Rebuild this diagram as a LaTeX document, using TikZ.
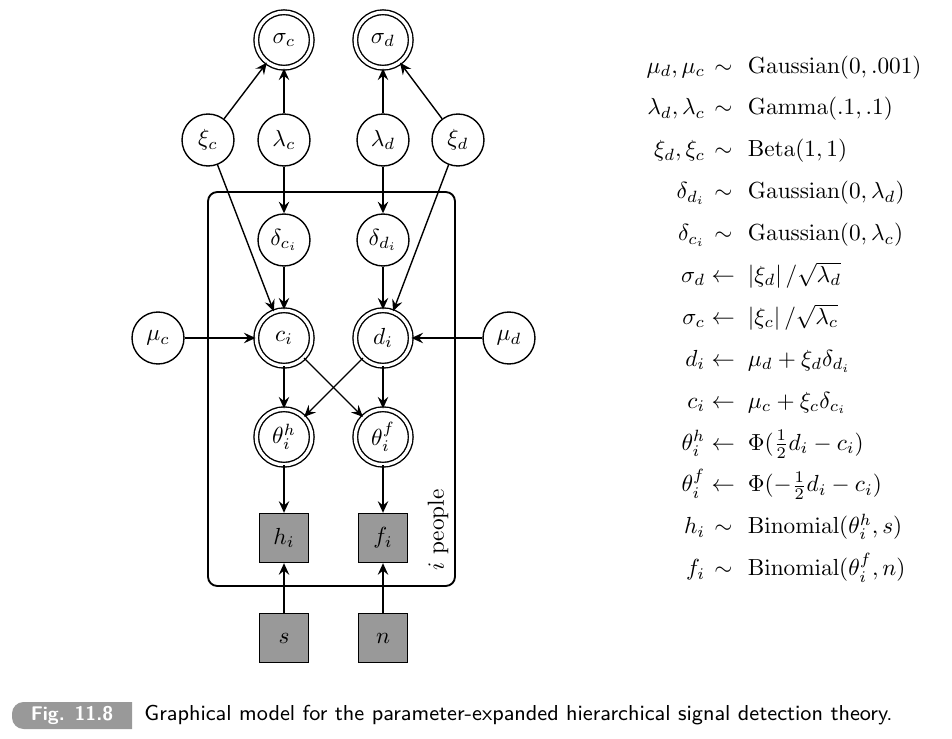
\documentclass[tikz,border=0pt]{standalone}
\usetikzlibrary{arrows.meta}
\tikzset{
  latent/.style={circle, draw, semithick, minimum size=0.785cm, inner sep=0pt},
  determ/.style={latent, double, double distance=1.4pt, minimum size=0.838cm},
  observed/.style={rectangle, draw, semithick, fill=black!40, minimum size=0.74cm, inner sep=0pt},
  edge/.style={->, semithick, >={Stealth[length=5pt,width=4.5pt,inset=1.8pt]}},
  plate/.style={thick, rounded corners=4pt},
}
\begin{document}
\begin{tikzpicture}[x=0.0151cm, y=-0.0151cm]
    \useasboundingbox (0,0) rectangle (952,739);
    % hyperparameters
    \node (sigc) at (284,40) [determ] {$\sigma_c$};
    \node (sigd) at (383,40) [determ] {$\sigma_d$};
    \node (xic) at (208,140) [latent] {$\xi_c$};
    \node (lamc) at (284,140) [latent] {$\lambda_c$};
    \node (lamd) at (383,140) [latent] {$\lambda_d$};
    \node (xid) at (458,140) [latent] {$\xi_d$};
    \node (muc) at (158,338) [latent] {$\mu_c$};
    \node (mud) at (509,338) [latent] {$\mu_d$};
    % per person
    \node (delc) at (284,240) [latent] {$\delta_{c_i}$};
    \node (deld) at (383,240) [latent] {$\delta_{d_i}$};
    \node (ci) at (284,338) [determ] {$c_i$};
    \node (di) at (383,338) [determ] {$d_i$};
    \node (thh) at (284,437) [determ] {$\theta_i^h$};
    \node (thf) at (383,437) [determ] {$\theta_i^f$};
    \node (hi) at (284,538) [observed] {$h_i$};
    \node (fi) at (383,538) [observed] {$f_i$};
    \node (s) at (284,638) [observed] {$s$};
    \node (n) at (383,638) [observed] {$n$};
    \draw[plate] (208,192) rectangle (455,586);
    \node (plabel) at (438,530) [rotate=90] {$i$ people};
    % edges
    \draw[edge] (xic) -- (sigc);
    \draw[edge] (lamc) -- (sigc);
    \draw[edge] (lamd) -- (sigd);
    \draw[edge] (xid) -- (sigd);
    \draw[edge] (lamc) -- (delc);
    \draw[edge] (lamd) -- (deld);
    \draw[edge] (xic) -- (ci);
    \draw[edge] (xid) -- (di);
    \draw[edge] (delc) -- (ci);
    \draw[edge] (deld) -- (di);
    \draw[edge] (muc) -- (ci);
    \draw[edge] (mud) -- (di);
    \draw[edge] (ci) -- (thh);
    \draw[edge] (ci) -- (thf);
    \draw[edge] (di) -- (thh);
    \draw[edge] (di) -- (thf);
    \draw[edge] (thh) -- (hi);
    \draw[edge] (thf) -- (fi);
    \draw[edge] (s) -- (hi);
    \draw[edge] (n) -- (fi);
    % model specification
    \node (eqs) at (784,316) [inner sep=0pt] {\renewcommand{\arraystretch}{1.5}%
      $\begin{array}{r@{\;}c@{\;\;}l}
        \mu_d, \mu_c & \sim & \mathrm{Gaussian}(0, .001)\\
        \lambda_d, \lambda_c & \sim & \mathrm{Gamma}(.1, .1)\\
        \xi_d, \xi_c & \sim & \mathrm{Beta}(1, 1)\\
        \delta_{d_i} & \sim & \mathrm{Gaussian}(0, \lambda_d)\\
        \delta_{c_i} & \sim & \mathrm{Gaussian}(0, \lambda_c)\\
        \sigma_d & \leftarrow & \left|\xi_d\right| / \sqrt{\lambda_d}\\
        \sigma_c & \leftarrow & \left|\xi_c\right| / \sqrt{\lambda_c}\\
        d_i & \leftarrow & \mu_d + \xi_d\delta_{d_i}\\
        c_i & \leftarrow & \mu_c + \xi_c\delta_{c_i}\\
        \theta_i^h & \leftarrow & \Phi(\frac{1}{2}d_i - c_i)\\
        \theta_i^f & \leftarrow & \Phi(-\frac{1}{2}d_i - c_i)\\
        h_i & \sim & \mathrm{Binomial}(\theta_i^h, s)\\
        f_i & \sim & \mathrm{Binomial}(\theta_i^f, n)
      \end{array}$};
    % caption
    \fill[black!40] (132,702) [rounded corners=5pt] -- (12,702) -- (12,729) [sharp corners] -- (132,729) -- cycle;
    \node (fignum) at (72,720) [anchor=base, text=white, font=\sffamily\bfseries\fontsize{8.5}{10}\selectfont] {Fig. 11.8};
    \node (caption) at (144,720) [anchor=base west, inner sep=0pt, font=\sffamily\fontsize{9.3}{11}\selectfont] {Graphical model for the parameter-expanded hierarchical signal detection theory.};
\end{tikzpicture}
\end{document}
